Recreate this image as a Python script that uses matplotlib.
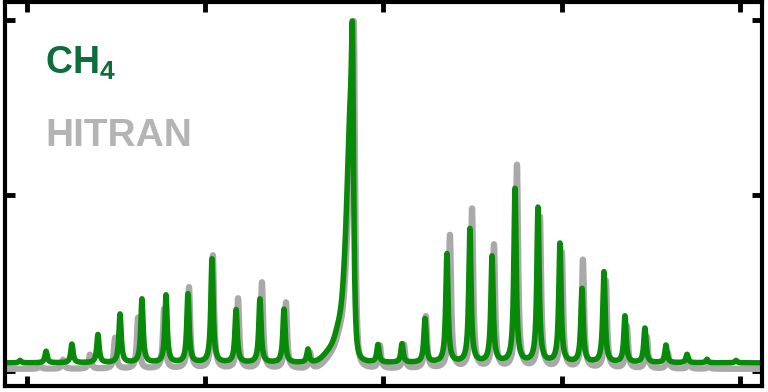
import numpy as np
import matplotlib.pyplot as plt

plt.rcParams['mathtext.fontset'] = 'custom'
plt.rcParams['mathtext.bf'] = 'Liberation Sans:bold'
plt.rcParams['mathtext.rm'] = 'Liberation Sans'

# line list (position, peak height above baseline)
ch4_pos = [-0.039, 0.107, 0.252, 0.398, 0.522, 0.645, 0.780, 0.903, 1.038, 1.173,
           1.307, 1.442, 1.576, 1.826, 1.969, 2.104, 2.233, 2.356, 2.485, 2.609,
           2.738, 2.867, 2.990, 3.114, 3.237, 3.355, 3.467, 3.585, 3.703, 3.815, 3.978]
ch4_amp = [0.007, 0.033, 0.053, 0.080, 0.138, 0.181, 0.192, 0.195, 0.295, 0.150,
           0.181, 0.152, 0.038, 0.645, 0.050, 0.053, 0.124, 0.309, 0.380, 0.301,
           0.494, 0.440, 0.338, 0.209, 0.258, 0.132, 0.098, 0.050, 0.024, 0.010, 0.007]
ch4_base = 0.023

hit_pos = [0.073, 0.202, 0.353, 0.494, 0.623, 0.769, 0.909, 1.043, 1.184, 1.318,
           1.453, 1.588, 1.8345, 1.980, 2.115, 2.238, 2.373, 2.497, 2.620, 2.749,
           2.878, 3.001, 3.119, 3.248, 3.366, 3.478, 3.596, 3.714, 3.826]
hit_amp = [0.011, 0.026, 0.040, 0.088, 0.145, 0.170, 0.231, 0.322, 0.199, 0.245,
           0.188, 0.045, 0.660, 0.065, 0.068, 0.148, 0.379, 0.453, 0.350, 0.578,
           0.430, 0.330, 0.308, 0.250, 0.120, 0.090, 0.045, 0.020, 0.008]
hit_base = 0.006

# Q-branch envelope (position, height, width)
ch4_q_pos = [1.8138, 1.7952, 1.7672, 1.7167]
ch4_q_amp = [0.415, 0.24, 0.10, 0.04]
hit_q_pos = [1.8222, 1.8036, 1.7756, 1.7251]
hit_q_amp = [0.42, 0.245, 0.10, 0.045]
q_sig = [0.0125, 0.0165, 0.028, 0.0449]

hwhm = 0.0077
x = np.linspace(-0.15, 4.15, 8000)


def spectrum(pos, amp, qpos, qamp, base):
    y = np.full_like(x, base)
    for p, a in zip(pos, amp):
        y += a / (1 + ((x - p) / hwhm) ** 2)
    for p, a, s in zip(qpos, qamp, q_sig):
        y += a * np.exp(-0.5 * ((x - p) / s) ** 2)
    return y


fig = plt.figure(figsize=(7.68, 3.92), dpi=100)
ax = fig.add_axes([0.0065, 0.0153, 0.9855, 0.9796])

ax.plot(x, spectrum(hit_pos, hit_amp, hit_q_pos, hit_q_amp, hit_base),
        color='#a9a9a9', lw=4.5, solid_joinstyle='round')
ax.plot(x, spectrum(ch4_pos, ch4_amp, ch4_q_pos, ch4_q_amp, ch4_base),
        color='#078a07', lw=4.0, solid_joinstyle='round')

ax.set_xlim(-0.1234, 4.123)
ax.set_ylim(-0.0427, 1.051)
ax.set_xticks([0, 1, 2, 3, 4])
ax.set_yticks([0, 0.5, 1.0])
ax.tick_params(direction='in', top=True, right=True, length=7.5, width=3.5,
               labelbottom=False, labelleft=False)
for s in ax.spines.values():
    s.set_linewidth(3)

ax.text(0.053, 0.8125, r'$\mathbf{CH_4}$', transform=ax.transAxes,
        fontsize=27, color='#0b6e3b')
ax.text(0.053, 0.625, 'HITRAN', transform=ax.transAxes, fontsize=28,
        fontweight='bold', family='Liberation Sans', color='#b4b4b4')

fig.savefig('out.png', dpi=100)
